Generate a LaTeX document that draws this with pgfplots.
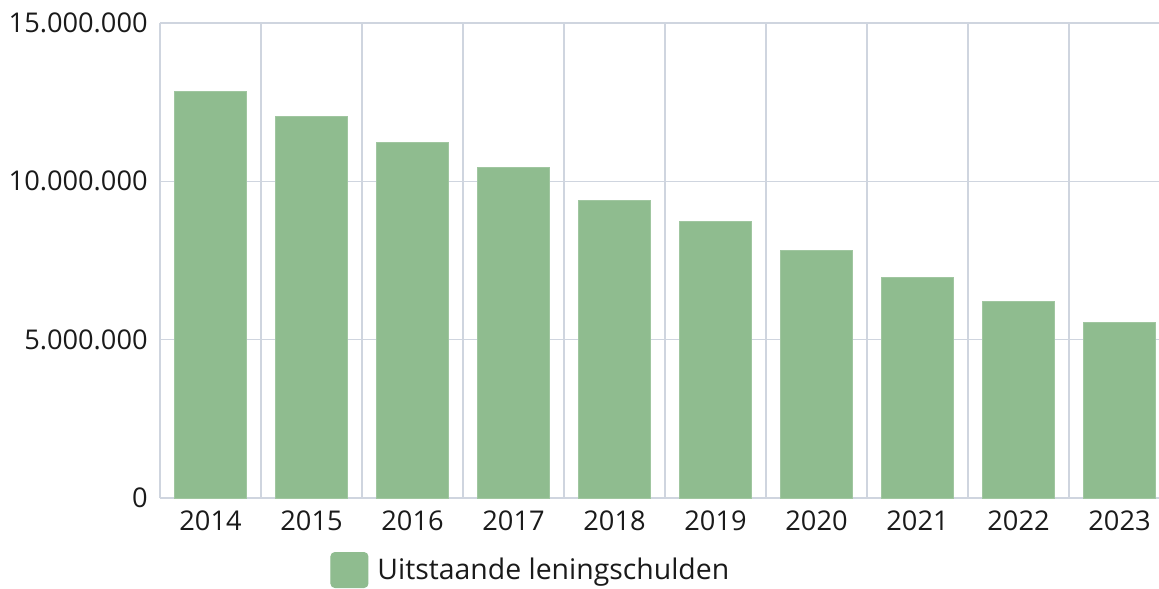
\documentclass[border=0pt]{standalone}
\usepackage{pgfplots}
\pgfplotsset{compat=1.18}
\usepackage{fontspec}
\setmainfont{Open Sans}

\definecolor{barcol}{HTML}{8FBC8F}
\definecolor{gridcol}{HTML}{CFD5DF}
\definecolor{txt}{HTML}{1A1A1A}

\pgfplotstableread{
x year value
0 2014 12850000
1 2015 12060000
2 2016 11240000
3 2017 10450000
4 2018 9410000
5 2019 8720000
6 2020 7800000
7 2021 6950000
8 2022 6190000
9 2023 5530000
}\debts

\begin{document}
\begin{tikzpicture}
\begin{axis}[
  at={(0,0)}, anchor=south west,
  scale only axis,
  width=499.5pt, height=237.5pt,
  xmin=-0.5, xmax=9.391,
  ymin=0, ymax=15000000,
  axis line style={draw=none},
  clip=false,
  ybar, bar width=0.713,
  xtick={0,...,9},
  xticklabels={2014,2015,2016,2017,2018,2019,2020,2021,2022,2023},
  minor xtick={-0.5,0.5,...,8.5},
  ytick={0,5000000,10000000,15000000},
  scaled y ticks=false,
  major tick length=0pt, minor tick length=0pt,
  xmajorgrids=false, xminorgrids=true, ymajorgrids=true,
  grid style={gridcol, line width=0.6pt},
  minor grid style={gridcol, line width=0.6pt},
  /pgf/number format/fixed,
  /pgf/number format/1000 sep={.},
  /pgf/number format/assume math mode=true,
  every tick label/.append style={font=\fontsize{13.6}{16}\selectfont, text=txt, inner sep=0pt},
  yticklabel style={anchor=east, xshift=-6pt},
  xticklabel style={anchor=north, yshift=-6pt},
  legend style={at={(0.1702,-0.1516)}, anchor=west, draw=none, fill=none,
    inner sep=0pt, column sep=4.5pt,
    font=\fontsize{14.2}{16}\selectfont, text=txt,
    nodes={inner sep=0pt}},
  legend image code/.code={
    \fill[barcol, rounded corners=2pt] (0pt,-8.5pt) rectangle (18.5pt,9pt);
  },
]
\addplot[fill=barcol, draw=barcol!85!white, line width=0.5pt] table[x=x, y=value] {\debts};
\addlegendentry{Uitstaande leningschulden}
\end{axis}
\pgfresetboundingbox
\path[use as bounding box] (-80pt,-45pt) rectangle (499.5pt,249pt);
\end{tikzpicture}
\end{document}
